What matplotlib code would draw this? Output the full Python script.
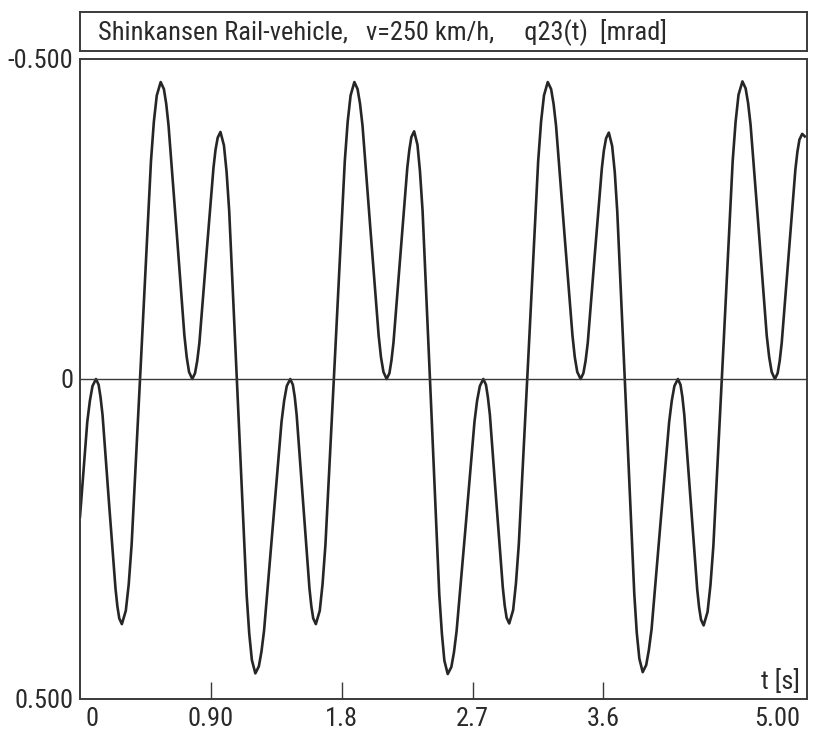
import matplotlib
matplotlib.use("Agg")
import matplotlib.pyplot as plt
from matplotlib import font_manager

# q23(t) of the Shinkansen rail-vehicle
t_s = [0.000, 0.050, 0.086, 0.110, 0.128, 0.155, 0.199, 0.244, 0.270, 0.288,
       0.315, 0.355, 0.422, 0.488, 0.528, 0.555, 0.577, 0.609, 0.664, 0.718,
       0.750, 0.772, 0.791, 0.821, 0.869, 0.918, 0.947, 0.966, 0.990, 1.026,
       1.086, 1.146, 1.182, 1.206, 1.230, 1.266, 1.326, 1.386, 1.422, 1.446,
       1.464, 1.490, 1.534, 1.578, 1.604, 1.622, 1.649, 1.688, 1.755, 1.821,
       1.861, 1.887, 1.909, 1.943, 1.998, 2.054, 2.087, 2.109, 2.128, 2.156,
       2.204, 2.251, 2.279, 2.298, 2.321, 2.356, 2.414, 2.471, 2.506, 2.529,
       2.554, 2.590, 2.652, 2.713, 2.750, 2.774, 2.792, 2.819, 2.863, 2.908,
       2.934, 2.952, 2.979, 3.018, 3.085, 3.151, 3.191, 3.217, 3.240, 3.274,
       3.330, 3.387, 3.420, 3.443, 3.462, 3.492, 3.540, 3.589, 3.618, 3.637,
       3.660, 3.695, 3.754, 3.812, 3.847, 3.870, 3.894, 3.931, 3.991, 4.052,
       4.088, 4.112, 4.130, 4.156, 4.201, 4.245, 4.271, 4.289, 4.316, 4.356,
       4.423, 4.489, 4.529, 4.556, 4.578, 4.612, 4.668, 4.723, 4.757, 4.779,
       4.798, 4.826, 4.873, 4.920, 4.948, 4.967, 4.985]
q23 = [0.215, 0.067, 0.011, 0.000, 0.009, 0.056, 0.192, 0.327, 0.374, 0.383,
       0.362, 0.259, -0.041, -0.340, -0.443, -0.464, -0.453, -0.396, -0.232, -0.068,
       -0.011, 0.000, -0.009, -0.056, -0.193, -0.330, -0.377, -0.386, -0.365, -0.263,
       0.037, 0.337, 0.439, 0.460, 0.449, 0.393, 0.230, 0.067, 0.011, 0.000,
       0.009, 0.056, 0.192, 0.327, 0.374, 0.383, 0.362, 0.259, -0.041, -0.340,
       -0.443, -0.464, -0.453, -0.396, -0.232, -0.068, -0.011, 0.000, -0.009, -0.057,
       -0.194, -0.330, -0.378, -0.387, -0.366, -0.263, 0.037, 0.337, 0.440, 0.461,
       0.450, 0.394, 0.231, 0.067, 0.011, 0.000, 0.009, 0.056, 0.191, 0.326,
       0.373, 0.382, 0.361, 0.258, -0.041, -0.340, -0.443, -0.464, -0.453, -0.396,
       -0.232, -0.068, -0.011, 0.000, -0.009, -0.056, -0.193, -0.329, -0.376, -0.385,
       -0.364, -0.262, 0.037, 0.335, 0.437, 0.458, 0.447, 0.391, 0.229, 0.067,
       0.011, 0.000, 0.009, 0.056, 0.193, 0.329, 0.376, 0.385, 0.364, 0.261,
       -0.040, -0.341, -0.444, -0.465, -0.454, -0.397, -0.233, -0.068, -0.011, 0.000,
       -0.009, -0.056, -0.192, -0.327, -0.374, -0.383, -0.379]

# extra readings close to the peaks so the tips come out round
t_near = [0.068, 0.141, 0.257, 0.335, 0.508, 0.593, 0.734, 0.806, 0.932, 1.008,
          1.164, 1.248, 1.404, 1.477, 1.591, 1.668, 1.841, 1.926, 2.070, 2.142,
          2.265, 2.338, 2.489, 2.572, 2.731, 2.805, 2.921, 2.998, 3.171, 3.257,
          3.403, 3.477, 3.603, 3.678, 3.829, 3.912, 4.070, 4.143, 4.258, 4.336,
          4.509, 4.595, 4.740, 4.812, 4.934]
q_near = [0.034, 0.028, 0.355, 0.321, -0.402, -0.430, -0.034, -0.028, -0.358, -0.324,
          0.398, 0.426, 0.034, 0.028, 0.355, 0.321, -0.402, -0.430, -0.034, -0.029,
          -0.358, -0.325, 0.398, 0.427, 0.034, 0.028, 0.354, 0.320, -0.402, -0.430,
          -0.034, -0.028, -0.357, -0.323, 0.396, 0.424, 0.034, 0.028, 0.357, 0.322,
          -0.402, -0.431, -0.034, -0.028, -0.355]

x_ticks = [0.9, 1.8, 2.7, 3.6]
x_labels = ["0.90", "1.8", "2.7", "3.6"]
y_ticks = [-0.5, 0.0, 0.5]
y_labels = ["-0.500", "0", "0.500"]
title = "Shinkansen Rail-vehicle,   v=250 km/h,     q23(t)  [mrad]"

pts = sorted(zip(t_s + t_near, q23 + q_near))
tt = [p[0] for p in pts]
qq = [p[1] for p in pts]

names = {f.name for f in font_manager.fontManager.ttflist}
narrow = [f for f in ["Liberation Sans Narrow", "Roboto Condensed", "Arial Narrow"]
          if f in names]
if narrow:
    plt.rcParams['font.family'] = [narrow[0], "DejaVu Sans"]
    fs = 19
else:
    plt.rcParams['font.family'] = ["Liberation Sans", "DejaVu Sans"]
    fs = 17

W, H = 816, 737
fig = plt.figure(figsize=(W / 100, H / 100), dpi=100)
frame_c = "#3a3a3a"
text_c = "#2a2a2a"

ax = fig.add_axes([80 / W, (H - 699) / H, 727 / W, 640 / H])
ax.plot(tt, qq, color="#262626", lw=1.9, solid_joinstyle="round")
ax.axhline(0, color=frame_c, lw=1.0)
ax.set_xlim(0, 5.0)
ax.set_ylim(0.5, -0.5)

ax.set_xticks(x_ticks)
ax.set_xticklabels(x_labels)
ax.tick_params(axis="x", direction="in", length=12, width=1.0, color=frame_c,
               labelsize=fs, labelcolor=text_c, pad=6)
ax.set_yticks(y_ticks)
ax.set_yticklabels(y_labels)
ax.tick_params(axis="y", length=0, labelsize=fs, labelcolor=text_c, pad=5)
for s in ax.spines.values():
    s.set_color(frame_c)
    s.set_linewidth(1.4)

# end labels of the time axis sit inside the frame
ax.text(0.008, -0.012, "0", transform=ax.transAxes, ha="left", va="top",
        fontsize=fs, color=text_c)
ax.text(0.99, -0.012, "5.00", transform=ax.transAxes, ha="right", va="top",
        fontsize=fs, color=text_c)
ax.text(0.99, 0.027, "t [s]", transform=ax.transAxes, ha="right", va="center",
        fontsize=fs, color=text_c)

# title box
tax = fig.add_axes([80 / W, (H - 51) / H, 727 / W, 39 / H])
tax.set_xticks([])
tax.set_yticks([])
for s in tax.spines.values():
    s.set_color(frame_c)
    s.set_linewidth(1.4)
tax.text(0.025, 0.5, title, transform=tax.transAxes, ha="left", va="center",
         fontsize=fs, color=text_c)

fig.savefig("out.png", dpi=100)
